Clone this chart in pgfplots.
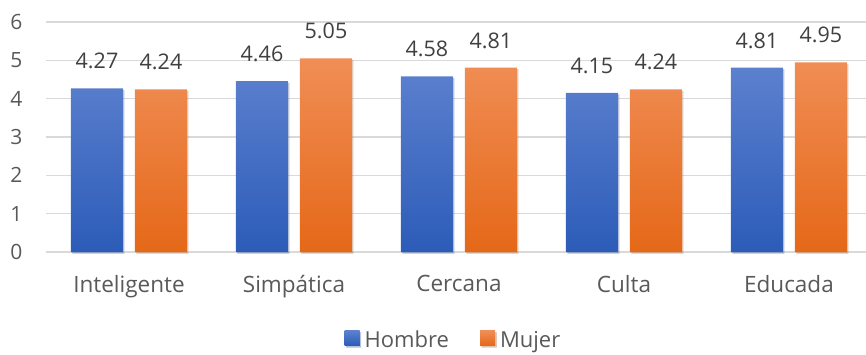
\documentclass[border=0pt]{standalone}
\usepackage{fontspec}
\setmainfont{Open Sans}
\usepackage{pgfplots}
\pgfplotsset{compat=1.18}
\usetikzlibrary{shadows}

\definecolor{gridgray}{HTML}{D9D9D9}
\definecolor{ticktxt}{HTML}{595959}
\definecolor{valtxt}{HTML}{404040}
\definecolor{blueTop}{RGB}{92,128,206}
\definecolor{blueBot}{RGB}{44,92,184}
\definecolor{orTop}{RGB}{240,142,86}
\definecolor{orBot}{RGB}{229,104,24}
\definecolor{blueMid}{RGB}{68,114,196}
\definecolor{orMid}{RGB}{237,125,49}

\begin{document}
\begin{tikzpicture}
\begin{axis}[
  scale only axis,
  width=819.5pt, height=230pt,
  xmin=-0.5, xmax=4.467,
  ymin=0, ymax=6,
  ybar=12pt, bar width=52pt,
  xtick={0,1,2,3,4},
  xticklabels={Inteligente,Simpática,Cercana,Culta,Educada},
  ytick={0,1,2,3,4,5,6},
  axis line style={draw=none},
  major tick length=0pt,
  ymajorgrids,
  grid style={gridgray, line width=1.5pt},
  /pgf/number format/assume math mode=true,
  tick label style={text=ticktxt},
  xticklabel style={font=\fontsize{22.5}{26}\selectfont, anchor=north, inner sep=0pt, yshift=-23pt},
  yticklabel style={font=\fontsize{21}{24}\selectfont, anchor=east, inner sep=0pt, xshift=-24pt},
  clip=false,
  nodes near coords={\pgfmathprintnumber[fixed,fixed zerofill,precision=2,assume math mode=true]{\pgfplotspointmeta}},
  nodes near coords style={font=\fontsize{21.5}{24}\selectfont, text=valtxt, anchor=south, inner sep=0pt, yshift=19pt},
  legend style={at={(0.4954,-0.383)}, anchor=center, draw=none, fill=none,
    legend columns=2, font=\fontsize{22}{26}\selectfont, text=ticktxt,
    nodes={inner xsep=0pt, inner ysep=1pt},
    /tikz/every even column/.append style={column sep=31pt}},
]
\addplot[draw=none, top color=blueTop, bottom color=blueBot,
  drop shadow={opacity=0.25, shadow xshift=1.5pt, shadow yshift=-1.5pt},
  legend image code/.code={\fill[blueMid] (0pt,-5.5pt) rectangle (15pt,9.5pt); \path (20pt,0pt);}]
  coordinates {(0,4.27) (1,4.46) (2,4.58) (3,4.15) (4,4.81)};
\addlegendentry{Hombre}
\addplot[draw=none, top color=orTop, bottom color=orBot,
  drop shadow={opacity=0.25, shadow xshift=1.5pt, shadow yshift=-1.5pt},
  legend image code/.code={\fill[orMid] (0pt,-5.5pt) rectangle (15pt,9.5pt); \path (20pt,0pt);}]
  coordinates {(0,4.24) (1,5.05) (2,4.81) (3,4.24) (4,4.95)};
\addlegendentry{Mujer}
\end{axis}
\pgfresetboundingbox
\path (-46.5pt,-102pt) rectangle (819.5pt,252pt);
\end{tikzpicture}
\end{document}
